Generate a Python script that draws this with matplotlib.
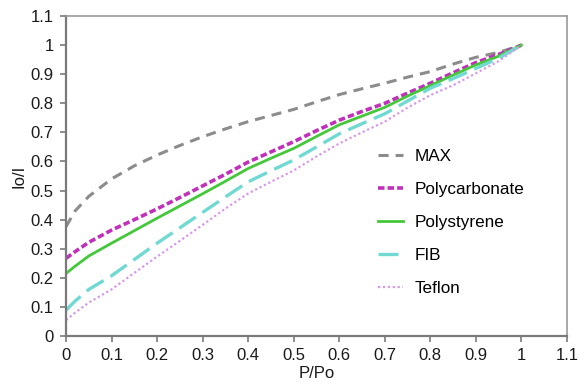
import matplotlib
matplotlib.use("Agg")
import matplotlib.pyplot as plt

plt.rcParams['font.family'] = ['Liberation Sans', 'DejaVu Sans']

x = [0.0, 0.02, 0.05, 0.1, 0.15, 0.2, 0.25, 0.3, 0.35, 0.4, 0.45, 0.5, 0.55, 0.6, 0.65, 0.7, 0.75, 0.8, 0.85, 0.9, 0.95, 1.0]

max_y = [0.376, 0.43, 0.48, 0.54, 0.585, 0.622, 0.655, 0.685, 0.712, 0.737, 0.758, 0.779, 0.805, 0.83, 0.85, 0.869, 0.89, 0.909, 0.935, 0.958, 0.975, 1.0]
polycarbonate = [0.267, 0.29, 0.322, 0.364, 0.40, 0.437, 0.476, 0.516, 0.556, 0.598, 0.633, 0.668, 0.706, 0.742, 0.772, 0.8, 0.835, 0.869, 0.905, 0.94, 0.968, 1.0]
polystyrene = [0.215, 0.24, 0.275, 0.319, 0.362, 0.405, 0.447, 0.489, 0.532, 0.576, 0.611, 0.645, 0.686, 0.726, 0.756, 0.786, 0.825, 0.861, 0.897, 0.932, 0.962, 1.0]
fib = [0.089, 0.12, 0.16, 0.207, 0.263, 0.319, 0.372, 0.425, 0.478, 0.53, 0.568, 0.605, 0.65, 0.695, 0.73, 0.764, 0.808, 0.852, 0.885, 0.92, 0.955, 1.0]
teflon = [0.055, 0.08, 0.115, 0.16, 0.217, 0.273, 0.327, 0.382, 0.438, 0.49, 0.53, 0.569, 0.617, 0.662, 0.7, 0.737, 0.785, 0.828, 0.862, 0.903, 0.945, 1.0]

series_labels = ["MAX", "Polycarbonate", "Polystyrene", "FIB", "Teflon"]

fig = plt.figure(figsize=(5.8, 3.91), dpi=100)
ax = fig.add_axes([0.1138, 0.1407, 0.8638, 0.8183])

ax.plot(x, max_y, color="#8c8c8c", lw=2.2, dashes=(3.3, 2.3), label=series_labels[0])
ax.plot(x, polycarbonate, color="#c030b8", lw=2.6, dashes=(1.8, 0.85), label=series_labels[1])
ax.plot(x, polystyrene, color="#44c83a", lw=2.0, label=series_labels[2])
ax.plot(x, fib, color="#70dad2", lw=2.4, dashes=(6, 2.4), label=series_labels[3])
ax.plot(x, teflon, color="#d898ea", lw=1.6, dashes=(1, 1.2), label=series_labels[4])

ax.set_xlim(0, 1.1)
ax.set_ylim(0, 1.1)
xt = [0, 0.1, 0.2, 0.3, 0.4, 0.5, 0.6, 0.7, 0.8, 0.9, 1, 1.1]
xtl = ["0", "0.1", "0.2", "0.3", "0.4", "0.5", "0.6", "0.7", "0.8", "0.9", "1", "1.1"]
ax.set_xticks(xt)
ax.set_xticklabels(xtl)
ax.set_yticks(xt)
ax.set_yticklabels(xtl)

for side in ["left", "bottom"]:
    ax.spines[side].set_color("#7a7a7a")
    ax.spines[side].set_linewidth(1.6)
for side in ["top", "right"]:
    ax.spines[side].set_color("#9a9a9a")
    ax.spines[side].set_linewidth(1.2)

ax.tick_params(axis="both", direction="out", length=4, width=1.2, color="#7a7a7a",
               labelsize=12, labelcolor="#1a1a1a", pad=5)

ax.set_xlabel("P/Po", fontsize=12, color="#1a1a1a", labelpad=2)
ax.set_ylabel("Io/I", fontsize=12, color="#1a1a1a", labelpad=3)

leg = ax.legend(loc="upper left", bbox_to_anchor=(0.592, 0.633), frameon=False,
                fontsize=12.3, handlelength=1.47, handletextpad=0.7, labelspacing=1.05)

fig.savefig("out.png", dpi=100)
